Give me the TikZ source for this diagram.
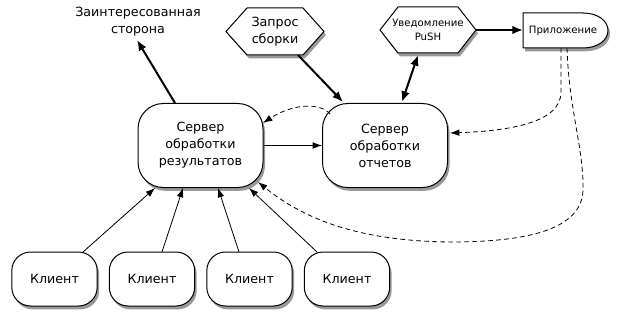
\documentclass[tikz,border=0pt]{standalone}
\usepackage{fontspec}
\setmainfont{DejaVu Sans}
\usetikzlibrary{shadows,arrows.meta}
\begin{document}
\begin{tikzpicture}[x=0.75pt,y=-0.75pt,
  shad/.style={drop shadow={shadow xshift=1.5pt,shadow yshift=-2.5pt,opacity=0.4,fill=black}},
  box/.style={draw,line width=0.75pt,fill=white,rounded corners=19pt,align=center,
    font=\fontsize{9.5}{12.75}\selectfont,shad,inner sep=0pt},
  server/.style={box,minimum width=93.75pt,minimum height=63pt},
  client/.style={box,minimum width=64pt,minimum height=40.5pt,rounded corners=14pt},
  outl/.style={draw,line width=0.75pt,fill=white,shad},
  lbl/.style={align=center,inner sep=0pt,font=\fontsize{9.5}{12.75}\selectfont},
  small/.style={align=center,inner sep=0pt,font=\fontsize{7.6}{11}\selectfont},
  thinarrow/.style={-{Latex[length=7pt,width=5pt]},line width=0.6pt},
  thickarrow/.style={-{Latex[length=8pt,width=6.5pt]},line width=1.5pt},
  dasharrow/.style={thinarrow,dashed,dash pattern=on 3.5pt off 2.5pt}
]
\useasboundingbox (0,0) rectangle (618,321);

% hexagons and app shape
\path[outl] (226,31.5) -- (247,8) -- (303,8) -- (324,31.5) -- (303,55) -- (247,55) -- cycle;
\path[outl] (380,30) -- (398,7) -- (458,7) -- (476,30) -- (458,53) -- (398,53) -- cycle;
\path[outl] (523,13) -- (583,13) .. controls (598,13) and (608,21) .. (608,30.5)
  .. controls (608,40) and (598,48) .. (583,48) -- (523,48) -- cycle;

\node[lbl] (stake) at (138,22) {Заинтересованная\\сторона};
\node[lbl] (req) at (275,31.5) {Запрос\\сборки};
\node[small] (push) at (428,30) {Уведомление\\PuSH};
\node[small] (app) at (563,31) {Приложение};

\node[server] (res) at (200.5,145.5) {Сервер\\обработки\\результатов};
\node[server] (rep) at (385,145.5) {Сервер\\обработки\\отчетов};

\node[client] (c1) at (54.5,279) {Клиент};
\node[client] (c2) at (152,279) {Клиент};
\node[client] (c3) at (249.5,279) {Клиент};
\node[client] (c4) at (347,279) {Клиент};

% endpoints
\coordinate (resTop) at (175,103);
\coordinate (stakeBot) at (137,40);
\coordinate (reqOut) at (298,55);
\coordinate (repIn1) at (343,102);
\coordinate (pushOut) at (418,55);
\coordinate (repIn2) at (402,102);
\coordinate (pushR) at (476,30);
\coordinate (appL) at (523,30);
\coordinate (resB1) at (155,188);
\coordinate (resB2) at (183,188);
\coordinate (resB3) at (218,188);
\coordinate (resB4) at (249,188);
\coordinate (resBR) at (258,182);
\coordinate (resR) at (263,123);
\coordinate (repTL) at (330,114);
\coordinate (repR) at (450,133);
\coordinate (appB1) at (561,48);
\coordinate (appB2) at (567,48);
\coordinate (c1T) at (83,252);
\coordinate (c2T) at (162,252);
\coordinate (c3T) at (239,252);
\coordinate (c4T) at (317,252);

\draw[thickarrow] (resTop) -- (stakeBot);
\draw[thickarrow] (reqOut) -- (repIn1);
\draw[thickarrow,{Latex[length=8pt,width=6.5pt]}-{Latex[length=8pt,width=6.5pt]}] (pushOut) -- (repIn2);
\draw[thickarrow] (pushR) -- (appL);
\draw[thinarrow] (res.east) -- (rep.west);
\draw[thinarrow] (c1T) -- (resB1);
\draw[thinarrow] (c2T) -- (resB2);
\draw[thinarrow] (c3T) -- (resB3);
\draw[thinarrow] (c4T) -- (resB4);

\draw[dasharrow] (repTL) .. controls (320,102) and (292,104) .. (resR);
\draw[dasharrow] (appB1) -- (561,92) .. controls (561,124) and (505,131) .. (repR);
\draw[dasharrow] (appB2) .. controls (569,110) and (584,150) .. (583,190)
  .. controls (582,232) and (520,242) .. (450,242)
  .. controls (360,241) and (305,220) .. (resBR);
\end{tikzpicture}
\end{document}
